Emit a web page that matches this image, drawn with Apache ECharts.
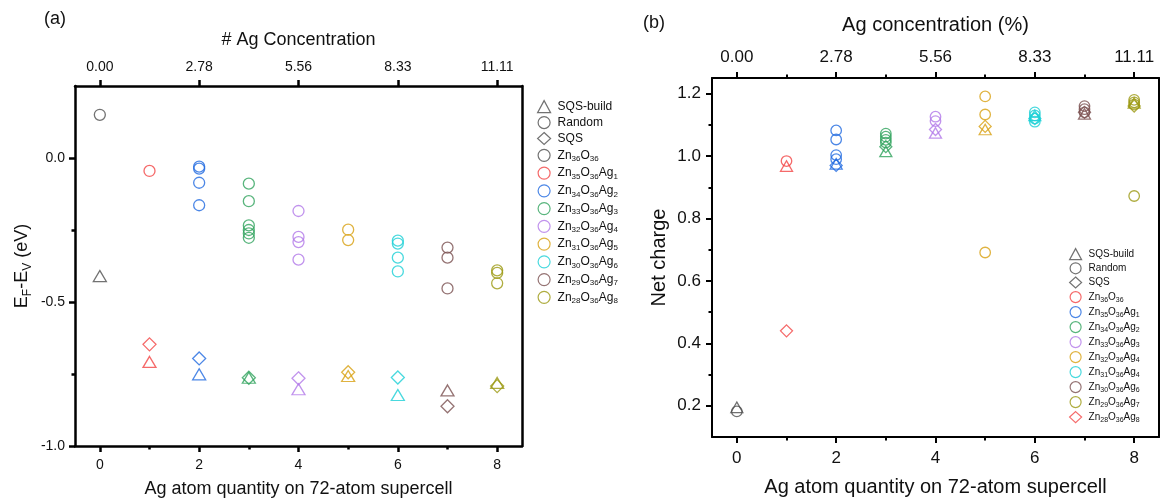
<!DOCTYPE html>
<html>
<head>
<meta charset="utf-8">
<script src="https://cdn.jsdelivr.net/npm/echarts@6/dist/echarts.min.js"></script>
<style>
  html, body { margin: 0; padding: 0; background: #fff; }
  #chart { width: 1163px; height: 504px; }
</style>
</head>
<body>
<div id="chart"></div>
<script>
// Number of Ag atoms in the 72-atom supercell (x axis of both panels)
const agCount = [0, 1, 2, 3, 4, 5, 6, 7, 8];
const majorX = [0, 2, 4, 6, 8];
const minorX = [1, 3, 5, 7];
// Ag concentration (%) shown on the top axes at the major ticks
const concLabels = ['0.00', '2.78', '5.56', '8.33', '11.11'];

// Panel (a): E_F - E_V (eV)
const efRandom = [
  [0.150],
  [-0.045],
  [-0.030, -0.037, -0.086, -0.164],
  [-0.089, -0.150, -0.234, -0.250, -0.262, -0.277],
  [-0.184, -0.274, -0.292, -0.353],
  [-0.249, -0.285],
  [-0.287, -0.297, -0.346, -0.394],
  [-0.311, -0.346, -0.453],
  [-0.390, -0.399, -0.435]
];
const efSqsBuild = [-0.410, -0.708, -0.751, -0.763, -0.803, -0.757, -0.823, -0.807, -0.781];
const efSqs = [null, -0.647, -0.696, -0.763, -0.765, -0.744, -0.762, -0.862, -0.792];
const efTicks = [-1.0, -0.5, 0.0];
const efMinor = [-0.75, -0.25];

// Panel (b): net charge
const qRandom = [
  [0.182],
  [0.984],
  [1.082, 1.053, 1.003, 0.990],
  [1.072, 1.062, 1.052, 1.043],
  [1.126, 1.112],
  [1.191, 1.133, 0.691],
  [1.140, 1.130, 1.120, 1.110],
  [1.160, 1.150, 1.140],
  [1.180, 1.172, 1.165, 0.872]
];
const qSqsBuild = [0.195, 0.968, 0.975, 1.015, 1.074, 1.085, 1.130, 1.135, 1.170];
const qSqs = [null, 0.440, 0.970, 1.030, 1.085, 1.095, 1.120, 1.140, 1.160];
const qTicks = [0.2, 0.4, 0.6, 0.8, 1.0, 1.2];
const qMinor = [0.3, 0.5, 0.7, 0.9, 1.1];

// Legend texts ("_" marks a subscript number)
const markerNames = ['SQS-build', 'Random', 'SQS'];
const formulasA = ['Zn_36O_36', 'Zn_35O_36Ag_1', 'Zn_34O_36Ag_2', 'Zn_33O_36Ag_3', 'Zn_32O_36Ag_4',
                   'Zn_31O_36Ag_5', 'Zn_30O_36Ag_6', 'Zn_29O_36Ag_7', 'Zn_28O_36Ag_8'];
const formulasB = ['Zn_36O_36', 'Zn_35O_36Ag_1', 'Zn_34O_36Ag_2', 'Zn_33O_36Ag_3', 'Zn_32O_36Ag_4',
                   'Zn_31O_36Ag_4', 'Zn_30O_36Ag_6', 'Zn_29O_36Ag_7', 'Zn_28O_36Ag_8'];

const colors = ['#4f4f4f', '#f24545', '#1f69e0', '#2fa35c', '#b178e8', '#d8a012', '#1ccfd6', '#7a5050', '#9b9912'];
const gray = '#4f4f4f';
const font = '"Liberation Sans", Arial, sans-serif';

function rich(str) {
  return '{g| }' + str.split(/(_\d+)/).filter(Boolean)
    .map(t => t[0] === '_' ? '{s|' + t.slice(1) + '}' : '{n|' + t + '}').join('');
}

const shapes = {
  circle: { symbol: 'circle', a: 11, b: 10.5 },
  triangle: { symbol: 'triangle', a: [13, 11], b: [12, 10.5] },
  diamond: { symbol: 'diamond', a: [13, 13], b: [12, 12] }
};

function scatter(name, shape, color, data, panel) {
  return {
    type: 'scatter', name, data,
    symbol: shapes[shape].symbol,
    symbolSize: shapes[shape][panel],
    itemStyle: { color: 'rgba(0,0,0,0)', borderColor: color, borderWidth: 1.3 },
    emphasis: { disabled: true },
    z: 3
  };
}

function panelSeries(panel, random, build, sqs) {
  const out = [];
  agCount.forEach((n, k) => {
    const c = colors[k];
    out.push(scatter(panel + '-' + k, 'circle', c, random[k].map(v => [n, v]), panel));
    if (build[k] != null) out.push(scatter(panel + '-build-' + k, 'triangle', c, [[n, build[k]]], panel));
    if (sqs[k] != null) out.push(scatter(panel + '-sqs-' + k, 'diamond', c, [[n, sqs[k]]], panel));
  });
  // marker-type keys for the legend
  out.push(scatter(panel + '-build', 'triangle', gray, [], panel));
  out.push(scatter(panel + '-random', 'circle', gray, [], panel));
  out.push(scatter(panel + '-sqs', 'diamond', gray, [], panel));
  return out;
}

const legendText = {
  'a-build': rich(markerNames[0]), 'a-random': rich(markerNames[1]), 'a-sqs': rich(markerNames[2]),
  'b-build': rich(markerNames[0]), 'b-random': rich(markerNames[1]), 'b-sqs': rich(markerNames[2])
};
agCount.forEach(k => { legendText['a-' + k] = rich(formulasA[k]); });
[1, 2, 3, 4, 5, 6, 7, 8].forEach(k => { legendText['b-' + k] = rich(formulasB[k - 1]); });
legendText['b-sqs-1'] = rich(formulasB[8]);

const legendA = ['a-build', 'a-random', 'a-sqs'].concat(agCount.map(k => 'a-' + k));
const legendB = ['b-build', 'b-random', 'b-sqs', 'b-1', 'b-2', 'b-3', 'b-4', 'b-5', 'b-6', 'b-7', 'b-8', 'b-sqs-1'];

// ---- axes -------------------------------------------------------------
function xMain(grid, pos, values, labels, lw, fs, margin, name, nameGap, nameSize) {
  return {
    type: 'value', gridIndex: grid, position: pos, min: -0.5, max: 8.5,
    name, nameLocation: 'middle', nameGap, nameMoveOverlap: false,
    nameTextStyle: { fontFamily: font, fontSize: nameSize, color: '#111' },
    axisLine: { show: true, onZero: false, lineStyle: { color: '#000', width: lw } },
    axisTick: { show: true, customValues: values, length: 6, lineStyle: { color: '#000', width: lw } },
    axisLabel: {
      show: true, customValues: values, margin,
      fontFamily: font, fontSize: fs, color: '#111',
      formatter: v => labels ? labels[majorX.indexOf(Math.round(v))] : String(Math.round(v))
    },
    splitLine: { show: false }
  };
}
function xMinor(grid, pos, lw) {
  return {
    type: 'value', gridIndex: grid, position: pos, min: -0.5, max: 8.5,
    axisLine: { show: false, onZero: false },
    axisTick: { show: true, customValues: minorX, length: 3.5, lineStyle: { color: '#000', width: lw } },
    axisLabel: { show: false }, splitLine: { show: false }
  };
}
function yMain(grid, min, max, values, lw, fs, margin, name, nameGap, nameSize, nameRich) {
  return {
    type: 'value', gridIndex: grid, position: 'left', min, max,
    name, nameLocation: 'middle', nameGap, nameMoveOverlap: false,
    nameTextStyle: { fontFamily: font, fontSize: nameSize, color: '#111', rich: nameRich },
    axisLine: { show: true, onZero: false, lineStyle: { color: '#000', width: lw } },
    axisTick: { show: true, customValues: values, length: 6, lineStyle: { color: '#000', width: lw } },
    axisLabel: { show: true, customValues: values, margin, fontFamily: font, fontSize: fs, color: '#111',
                 formatter: v => v.toFixed(1) },
    splitLine: { show: false }
  };
}
function yMinor(grid, min, max, values, lw) {
  return {
    type: 'value', gridIndex: grid, position: 'left', min, max,
    axisLine: { show: false, onZero: false },
    axisTick: { show: true, customValues: values, length: 3.5, lineStyle: { color: '#000', width: lw } },
    axisLabel: { show: false }, splitLine: { show: false }
  };
}
function yEdge(grid, min, max, lw) {
  return {
    type: 'value', gridIndex: grid, position: 'right', min, max,
    axisLine: { show: true, onZero: false, lineStyle: { color: '#000', width: lw } },
    axisTick: { show: false }, axisLabel: { show: false }, splitLine: { show: false }
  };
}

const efNameRich = {
  n: { fontFamily: font, fontSize: 18, color: '#111', lineHeight: 22 },
  s: { fontFamily: font, fontSize: 12, color: '#111', lineHeight: 10, padding: [11, 0, 0, 0] }
};

const LWA = 2.5, LWB = 2;

const xAxes = [
  xMain(0, 'bottom', majorX, null, LWA, 14, 12, 'Ag atom quantity on 72-atom supercell', 34, 18),
  xMain(0, 'top', majorX, concLabels, LWA, 14, 12, '# Ag Concentration', 37, 18),
  xMinor(0, 'bottom', LWA),
  xMain(1, 'bottom', majorX, null, LWB, 17, 13, 'Ag atom quantity on 72-atom supercell', 40, 20),
  xMain(1, 'top', majorX, concLabels, LWB, 17, 12, 'Ag concentration (%)', 43, 20),
  xMinor(1, 'bottom', LWB),
  xMinor(1, 'top', LWB)
];
const yAxes = [
  yMain(0, -1.0, 0.25, efTicks, LWA, 14, 10, '{n|E}{s|F}{n|-E}{s|V}{n| (eV)}', 42, 18, efNameRich),
  yMinor(0, -1.0, 0.25, efMinor, LWA),
  yEdge(0, -1.0, 0.25, LWA),
  yMain(1, 0.1, 1.25, qTicks, LWB, 17, 11, 'Net charge', 43, 20),
  yMinor(1, 0.1, 1.25, qMinor, LWB),
  yEdge(1, 0.1, 1.25, LWB)
];
// panel (a) marks use x/y axis 0, panel (b) marks use x/y axis 3
function bind(list, xi, yi) { return list.map(s => Object.assign(s, { xAxisIndex: xi, yAxisIndex: yi })); }

const series = bind(panelSeries('a', efRandom, efSqsBuild, efSqs), 0, 0)
  .concat(bind(panelSeries('b', qRandom, qSqsBuild, qSqs), 3, 3));

function legendRich(fs, sfs, lh, pad, gap) {
  return {
    g: { width: gap, fontSize: fs, lineHeight: lh },
    n: { fontFamily: font, fontSize: fs, color: '#111', lineHeight: lh },
    s: { fontFamily: font, fontSize: sfs, color: '#111', lineHeight: lh - pad, padding: [pad, 0, 0, 0] }
  };
}

const option = {
  animation: false,
  backgroundColor: '#fff',
  grid: [
    { left: 75, top: 86, width: 447, height: 360, outerBoundsMode: 'none', containLabel: false },
    { left: 712, top: 78, width: 447, height: 359, outerBoundsMode: 'none', containLabel: false }
  ],
  xAxis: xAxes,
  yAxis: yAxes,
  legend: [
    {
      orient: 'vertical', left: 532, top: 95, itemWidth: 13, itemHeight: 12, itemGap: 2.75,
      data: legendA, selectedMode: false,
      itemStyle: { borderWidth: 1.2 },
      formatter: n => legendText[n],
      textStyle: { rich: legendRich(12, 8, 14, 7, 2) }
    },
    {
      orient: 'vertical', left: 1064, top: 243, itemWidth: 12, itemHeight: 11, itemGap: 2,
      data: legendB, selectedMode: false,
      itemStyle: { borderWidth: 1.2 },
      formatter: n => legendText[n],
      textStyle: { rich: legendRich(10, 7, 12, 6, 2) }
    }
  ],
  graphic: [
    { type: 'text', left: 44, top: 10, style: { text: '(a)', fontFamily: font, fontSize: 18, fill: '#111' } },
    { type: 'text', left: 643, top: 14, style: { text: '(b)', fontFamily: font, fontSize: 18, fill: '#111' } }
  ],
  series
};

const chart = echarts.init(document.getElementById('chart'), null, { renderer: 'canvas' });
chart.setOption(option);
</script>
</body>
</html>
